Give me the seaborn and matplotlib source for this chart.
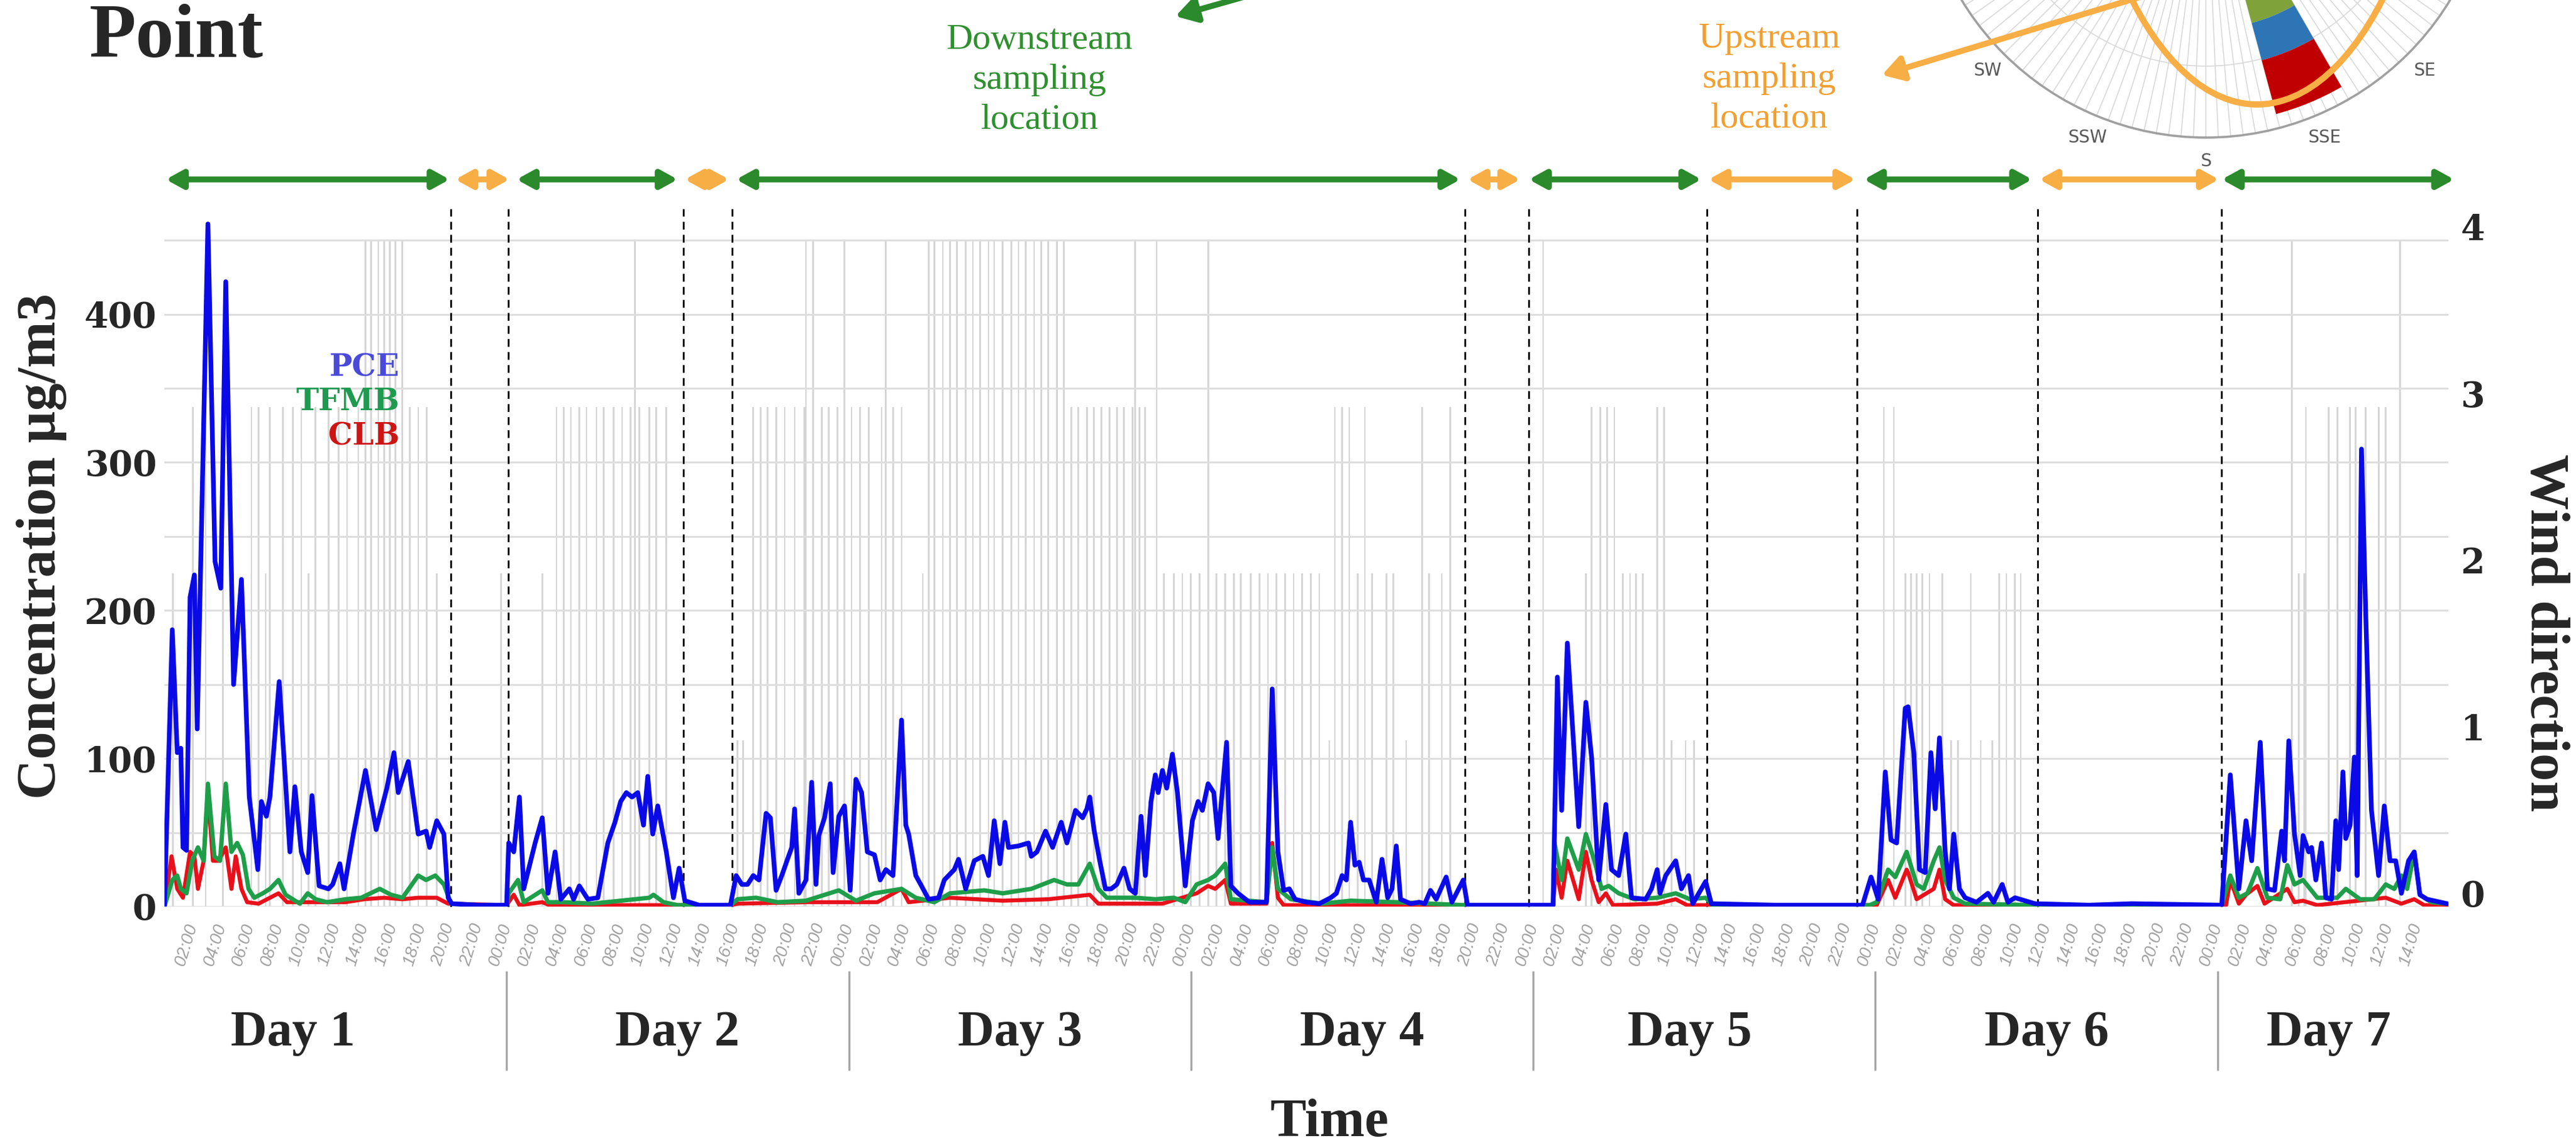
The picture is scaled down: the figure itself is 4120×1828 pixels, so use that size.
"""
Concentration time series (PCE / TFMB / CLB) with wind direction bars,
sampling-location periods and a wind-rose inset cut by the top edge.
"""

import numpy as np
import pandas as pd
import matplotlib
matplotlib.use("Agg")
import matplotlib.pyplot as plt
import seaborn as sns
from matplotlib.patches import Ellipse, FancyArrowPatch

# hours since Day 1 00:00 -> concentration (ug/m3)
PCE = [
    (0.0, 0), (0.55, 187), (0.9, 104), (1.15, 107), (1.3, 40), (1.55, 38), (1.8, 209), (2.1, 224),
    (2.3, 120), (3.05, 461), (3.55, 233), (3.95, 215), (4.3, 422), (4.85, 150), (5.4, 221), (5.95, 74),
    (6.55, 25), (6.8, 71), (7.15, 61), (7.4, 74), (8.05, 152), (8.8, 37), (9.15, 81), (9.6, 37),
    (10.05, 23), (10.35, 75), (10.85, 14), (11.5, 12), (11.8, 15), (12.3, 29), (12.6, 12), (13.25, 49),
    (14.1, 92), (14.85, 52), (15.6, 80), (16.1, 104), (16.4, 77), (17.1, 98), (17.8, 49), (18.35, 51),
    (18.6, 40), (19.1, 58), (19.6, 49), (19.9, 6), (20.15, 2), (22.0, 1), (24.0, 1),
    (24.15, 43), (24.5, 37), (24.9, 74), (25.2, 12), (26.0, 43), (26.5, 60), (26.9, 9), (27.4, 37),
    (27.8, 5), (28.4, 12), (28.7, 5), (29.1, 14), (29.7, 5), (30.4, 6), (31.1, 43), (31.6, 57),
    (32.0, 71), (32.4, 77), (32.8, 74), (33.2, 77), (33.6, 55), (33.9, 88), (34.25, 49), (34.6, 68),
    (35.2, 37), (35.7, 6), (36.1, 26), (36.5, 4), (37.5, 1), (39.7, 1),
    (40.1, 21), (40.5, 15), (40.9, 15), (41.3, 21), (41.7, 18), (42.2, 63), (42.5, 60), (42.9, 11),
    (43.3, 21), (43.7, 32), (44.0, 40), (44.2, 66), (44.5, 9), (45.0, 18), (45.4, 84), (45.7, 15),
    (45.9, 48), (46.3, 60), (46.7, 83), (46.9, 23), (47.3, 61), (47.7, 68), (48.1, 11), (48.5, 86),
    (48.9, 77), (49.3, 37), (49.8, 35), (50.2, 18), (50.6, 25), (51.1, 21), (51.7, 126), (52.0, 55),
    (52.2, 49), (52.7, 21), (53.1, 14), (53.6, 5), (54.3, 6), (54.7, 18), (55.4, 25), (55.7, 32),
    (56.2, 12), (56.8, 31), (57.4, 34), (57.8, 21), (58.2, 58), (58.6, 29), (58.95, 57), (59.2, 40),
    (59.9, 41), (60.6, 43), (60.8, 34), (61.2, 37), (61.8, 51), (62.3, 40), (62.9, 57), (63.3, 43),
    (63.9, 65), (64.4, 60), (64.7, 66), (64.9, 74), (65.2, 52), (65.6, 31), (66.0, 12), (66.4, 12),
    (66.8, 15), (67.3, 26), (67.7, 12), (68.1, 9), (68.5, 61), (68.8, 21), (69.2, 71), (69.5, 89),
    (69.7, 77), (70.0, 92), (70.3, 80), (70.7, 103), (71.05, 77), (71.6, 14), (72.1, 58), (72.5, 71),
    (72.8, 65), (73.2, 83), (73.6, 77), (73.9, 46), (74.5, 111), (74.8, 14), (75.3, 9), (76.1, 3),
    (77.3, 3), (77.7, 147), (78.1, 37), (78.5, 11), (78.9, 12), (79.3, 5), (80.1, 3), (81.0, 2),
    (81.8, 6), (82.2, 9), (82.6, 21), (82.9, 18), (83.2, 57), (83.5, 28), (83.8, 30), (84.1, 18),
    (84.5, 18), (85.0, 3), (85.4, 32), (85.8, 6), (86.1, 12), (86.4, 41), (86.7, 5), (87.4, 2),
    (88.0, 3), (88.4, 2), (88.8, 11), (89.2, 5), (89.9, 20), (90.3, 3), (91.1, 18), (91.4, 1),
    (93.0, 1), (95.7, 1), (97.4, 1),
    (97.7, 155), (98.0, 65), (98.4, 178), (99.2, 54), (99.7, 138), (100.1, 101), (100.6, 18), (101.1, 69),
    (101.5, 25), (102.0, 21), (102.5, 49), (102.9, 6), (103.9, 5), (104.3, 12), (104.7, 25), (104.9, 9),
    (105.3, 21), (106.0, 31), (106.4, 12), (106.9, 21), (107.2, 2), (108.1, 17), (108.5, 2), (113.0, 1),
    (119.1, 1),
    (119.7, 20), (120.2, 5), (120.7, 91), (121.1, 45), (121.5, 43), (122.1, 134), (122.3, 135), (122.7, 104),
    (123.1, 25), (123.5, 23), (123.9, 104), (124.2, 66), (124.5, 114), (124.9, 37), (125.2, 12), (125.5, 49),
    (125.9, 12), (126.3, 6), (127.1, 3), (127.9, 9), (128.3, 3), (128.9, 15), (129.3, 3), (129.8, 6),
    (130.5, 4), (131.2, 2), (135.0, 1), (138.0, 2), (144.3, 1),
    (144.9, 89), (145.5, 12), (146.0, 58), (146.4, 31), (147.0, 111), (147.5, 12), (148.0, 11), (148.5, 51),
    (148.7, 31), (149.0, 112), (149.4, 49), (149.8, 21), (150.0, 48), (150.4, 37), (150.6, 40), (150.9, 18),
    (151.3, 43), (151.6, 6), (152.0, 5), (152.3, 58), (152.5, 25), (152.8, 91), (153.0, 46), (153.3, 55),
    (153.6, 101), (153.8, 21), (154.1, 309), (154.4, 197), (154.8, 65), (155.3, 21), (155.7, 68), (156.1, 31),
    (156.5, 31), (156.9, 9), (157.4, 31), (157.8, 37), (158.2, 8), (158.7, 5), (160.1, 2),
]

TFMB = [
    (0.0, 0), (0.55, 18), (0.9, 21), (1.15, 12), (1.55, 9), (1.95, 31), (2.35, 40), (2.75, 31),
    (3.05, 83), (3.5, 34), (3.9, 31), (4.3, 83), (4.7, 37), (5.1, 43), (5.5, 35), (5.9, 12),
    (6.3, 6), (6.9, 9), (7.4, 12), (8.0, 18), (8.5, 8), (9.0, 5), (9.5, 2), (10.05, 9),
    (10.6, 5), (11.4, 3), (12.7, 5), (13.8, 6), (15.1, 12), (15.9, 8), (16.7, 6), (17.8, 21),
    (18.35, 18), (19.0, 21), (19.6, 15), (20.1, 2), (22.0, 1), (24.0, 1),
    (24.15, 9), (24.8, 18), (25.2, 3), (26.5, 11), (26.9, 3), (28.0, 3), (30.0, 2), (32.0, 4),
    (34.0, 6), (34.3, 8), (35.0, 3), (36.0, 1), (39.7, 1),
    (40.2, 5), (41.5, 6), (43.0, 3), (45.0, 4), (47.3, 11), (48.5, 4), (49.8, 9), (51.7, 12),
    (52.7, 6), (54.0, 3), (55.1, 9), (57.5, 11), (58.8, 9), (60.8, 12), (62.4, 18), (63.3, 15),
    (64.1, 15), (64.9, 29), (65.5, 12), (66.1, 6), (68.1, 6), (69.5, 5), (70.8, 6), (71.6, 3),
    (72.4, 15), (73.2, 18), (73.7, 21), (74.4, 29), (74.8, 5), (77.3, 3), (77.7, 40), (78.1, 12),
    (79.0, 5), (81.2, 2), (83.2, 4), (86.4, 3), (91.2, 1), (97.4, 1),
    (97.5, 43), (98.0, 18), (98.4, 46), (99.2, 25), (99.7, 49), (100.3, 31), (100.8, 12), (101.3, 14),
    (102.0, 9), (103.1, 5), (104.7, 6), (106.0, 9), (107.0, 5), (108.1, 6), (108.6, 1), (119.6, 1),
    (120.1, 3), (120.9, 25), (121.4, 20), (122.2, 37), (122.9, 15), (123.4, 12), (124.1, 31), (124.5, 40),
    (124.9, 18), (125.5, 6), (126.3, 2), (131.2, 1), (144.3, 1),
    (144.9, 21), (145.5, 6), (146.1, 9), (146.8, 26), (147.5, 6), (148.4, 5), (148.9, 28), (149.4, 15),
    (150.0, 18), (150.5, 12), (151.0, 6), (152.4, 6), (153.0, 12), (154.0, 5), (155.0, 5), (155.8, 15),
    (156.4, 12), (156.9, 21), (157.3, 12), (157.8, 37), (158.2, 8), (159.0, 3), (160.1, 2),
]

CLB = [
    (0.0, 0), (0.5, 34), (0.9, 12), (1.3, 6), (1.8, 37), (2.1, 34), (2.35, 12), (2.75, 31),
    (3.05, 77), (3.4, 31), (3.8, 31), (4.3, 40), (4.7, 12), (5.0, 34), (5.4, 12), (5.8, 3),
    (6.6, 2), (7.4, 6), (8.0, 9), (8.6, 3), (12.7, 3), (14.0, 5), (15.4, 6), (16.7, 5),
    (17.8, 6), (19.1, 6), (19.9, 2), (24.0, 1), (24.5, 8), (24.9, 1), (26.5, 3), (27.0, 1),
    (39.7, 1), (40.2, 2), (45.0, 3), (50.0, 3), (51.7, 12), (52.2, 3), (55.1, 6), (58.8, 4),
    (62.0, 5), (64.9, 8), (65.5, 2), (70.0, 2), (72.4, 9), (73.2, 14), (73.7, 12), (74.4, 18),
    (74.8, 2), (77.3, 2), (77.7, 43), (78.1, 6), (78.5, 1), (97.4, 1),
    (97.6, 25), (98.0, 6), (98.4, 31), (99.2, 5), (99.7, 37), (100.1, 18), (100.6, 3), (101.1, 9),
    (101.6, 1), (104.7, 2), (106.0, 5), (106.8, 1), (120.1, 1), (120.9, 18), (121.4, 6), (122.2, 25),
    (122.3, 23), (122.9, 5), (124.1, 12), (124.5, 25), (124.9, 5), (125.5, 1), (144.6, 1),
    (144.9, 18), (145.5, 2), (146.0, 8), (146.8, 14), (147.3, 2), (148.9, 12), (149.4, 3), (150.0, 4),
    (151.0, 1), (155.8, 6), (156.9, 2), (157.8, 5), (158.5, 1), (160.1, 1),
]

# hours -> wind direction class (right axis)
WIND = [
    (0.6, 2), (2.0, 3), (2.9, 3), (4.1, 3), (6.1, 3), (6.6, 3), (7.1, 2), (7.4, 3), (8.3, 3),
    (9.0, 3), (9.6, 3), (10.1, 2), (10.6, 3), (11.5, 3), (12.2, 3), (12.8, 3), (13.6, 3),
    (14.1, 4), (14.5, 4), (15.0, 4), (15.4, 4), (15.8, 4), (16.2, 4), (16.7, 4), (17.2, 3),
    (17.8, 3), (18.4, 3), (19.1, 2), (23.6, 2), (26.5, 2),
    (27.5, 3), (28.0, 3), (28.5, 3), (29.1, 3), (29.6, 3), (30.3, 3), (30.8, 3), (31.5, 3),
    (32.1, 3), (32.7, 3), (33.0, 4), (33.3, 3), (34.0, 3), (34.5, 3), (35.2, 3), (40.2, 1),
    (40.6, 1), (41.3, 3), (41.8, 3), (42.3, 3), (42.9, 3), (43.5, 3), (44.2, 3), (44.9, 3),
    (45.0, 4), (45.5, 4), (46.1, 3), (46.6, 3), (47.2, 3), (47.7, 4), (48.2, 3), (48.8, 3),
    (49.4, 3), (50.3, 3), (50.6, 4), (51.1, 3), (51.7, 3), (53.2, 2),
    (53.6, 4), (54.0, 4), (54.6, 4), (55.1, 4), (55.6, 4), (56.2, 4), (56.7, 4), (57.2, 4),
    (57.8, 4), (58.2, 4), (58.8, 4), (59.4, 4), (59.9, 4), (60.4, 4), (61.0, 4), (61.5, 4),
    (62.0, 4), (62.6, 4), (63.1, 4), (63.6, 3), (64.1, 3), (64.7, 3), (65.2, 3), (65.7, 3),
    (66.3, 3), (66.8, 3), (67.3, 3), (67.9, 3), (68.1, 4), (68.4, 3), (68.8, 3), (69.6, 4),
    (70.1, 2), (70.8, 2), (71.4, 2), (72.0, 2), (72.6, 2), (73.2, 4), (73.8, 2), (74.4, 2),
    (75.0, 2), (75.5, 2), (76.2, 2), (76.8, 2), (77.4, 2), (78.0, 2), (78.6, 2), (79.2, 2),
    (79.8, 2), (80.4, 2), (81.0, 2), (81.7, 1), (82.1, 3), (82.6, 3), (83.1, 3), (83.7, 2),
    (84.2, 3), (84.7, 2), (85.7, 2), (86.2, 2), (87.1, 1), (88.2, 3), (88.7, 2), (89.6, 2),
    (90.2, 3), (96.7, 4), (99.7, 2), (100.1, 3), (100.7, 3), (101.2, 3), (101.7, 3), (102.3, 2),
    (102.8, 2), (103.2, 2), (103.7, 2), (104.7, 3), (105.2, 3), (105.7, 1), (106.7, 1), (107.3, 1),
    (120.6, 3), (121.3, 3), (122.1, 2), (122.5, 2), (122.9, 2), (123.3, 2), (123.8, 2), (124.7, 2),
    (125.3, 1), (125.8, 1), (126.7, 2), (127.4, 1), (128.2, 1), (128.7, 2), (129.2, 2), (129.8, 2),
    (130.2, 2), (149.2, 4), (149.7, 2), (150.1, 2), (150.2, 3), (151.8, 3), (152.4, 3), (153.3, 3),
    (153.7, 3), (154.4, 3), (155.3, 3), (155.8, 3), (156.8, 4),
]

SWITCH_HOURS = [20.1, 24.1, 36.4, 39.8, 91.2, 95.7, 108.2, 118.7, 131.4, 144.3]
DOWNSTREAM_SPANS = [(0.1, 20.0), (24.7, 36.0), (40.1, 90.9), (95.7, 107.8), (119.2, 131.0), (144.3, 160.6)]
UPSTREAM_SPANS = [(20.4, 24.2), (36.5, 39.6), (91.4, 95.1), (108.3, 118.6), (131.5, 144.1)]

DAY_NAMES = ["Day 1", "Day 2", "Day 3", "Day 4", "Day 5", "Day 6", "Day 7"]
DAY_LABEL_HOURS = [9.0, 36.0, 60.0, 84.0, 107.0, 132.0, 151.8]
DAY_STARTS = [24, 48, 72, 96, 120, 144]
HOUR_TICKS = list(range(2, 159, 2))
HOUR_LABELS = [f"{h % 24:02d}:00" for h in HOUR_TICKS]

# only the lower half of the rose is inside the picture
ROSE_LABELS = {202.5: "SSW", 225.0: "SW", 180.0: "S", 157.5: "SSE", 135.0: "SE"}
ROSE_BAR_DIR = 157.5
ROSE_SEGMENTS = [0.62, 0.135, 0.195]
ROSE_COLORS = ["#7fa33a", "#2e75b6", "#c00000"]

BLUE, GREEN, RED = "#0a0ae6", "#1f9e4a", "#e8101a"
ARROW_GREEN, ARROW_ORANGE = "#2b8a2b", "#f7ae45"
TEXT_GREEN, TEXT_ORANGE = "#2f8f2f", "#f0a032"

W_PX, H_PX, DPI = 4120, 1828, 200
Y_TOP = 475


def fx(px):
    return px / W_PX


def fy(py):
    return 1 - py / H_PX


def main():
    sns.set_style("white")
    plt.rcParams["font.family"] = ["Liberation Serif", "DejaVu Serif"]

    fig = plt.figure(figsize=(W_PX / DPI, H_PX / DPI), dpi=DPI)
    ax = fig.add_axes([fx(263), fy(1450), fx(3916) - fx(263), fy(325) - fy(1450)])
    ax2 = ax.twinx()
    ax.set_zorder(ax2.get_zorder() + 1)
    ax.patch.set_visible(False)

    # wind direction bars behind everything
    wind = pd.DataFrame(WIND, columns=["hour", "level"])
    ax2.bar(wind["hour"], wind["level"], width=0.12, color="#d6d6d6", linewidth=0)
    ax2.set_ylim(0, 4 * Y_TOP / 450)
    ax2.set_yticks([0, 1, 2, 3, 4], ["0", "1", "2", "3", "4"],
                   fontsize=20, fontweight="bold", family="DejaVu Serif", va="baseline")
    ax2.tick_params(length=0, pad=7)

    for data, color, lw in [(CLB, RED, 2.3), (TFMB, GREEN, 2.5), (PCE, BLUE, 2.7)]:
        df = pd.DataFrame(data, columns=["hour", "conc"])
        sns.lineplot(data=df, x="hour", y="conc", ax=ax, color=color, lw=lw,
                     sort=False, estimator=None)

    ax.set_xlim(0, 160.2)
    ax.set_ylim(0, Y_TOP)
    ax.set_yticks(np.arange(0, 401, 100), [str(v) for v in range(0, 401, 100)],
                  fontsize=20, fontweight="bold", family="DejaVu Serif")
    ax.set_yticks(np.arange(50, 451, 100), minor=True)
    ax.grid(axis="y", which="both", color="#dedede", lw=1.1)
    ax.grid(axis="x", visible=False)
    ax.tick_params(axis="y", which="both", length=0, pad=4.5)
    ax.set_xticks(HOUR_TICKS, HOUR_LABELS, rotation=73, ha="right", va="center",
                  rotation_mode="anchor", fontsize=10, color="#a0a0a0",
                  fontstyle="italic", family="Liberation Sans")
    ax.tick_params(axis="x", length=0, pad=10)
    ax.set_xlabel("")
    ax.set_ylabel("")
    for a in (ax, ax2):
        for s in a.spines.values():
            s.set_visible(False)

    # location switches and day separators
    ax.vlines(SWITCH_HOURS, 0, 471, colors="black", linestyles=(0, (4.5, 3)),
              lw=1.0, clip_on=False, zorder=1.5)
    ax.vlines(DAY_STARTS, -0.0916, -0.2329, transform=ax.get_xaxis_transform(),
              colors="#a6a6a6", lw=1.2, clip_on=False)
    for h, name in zip(DAY_LABEL_HOURS, DAY_NAMES):
        ax.text(h, -0.1973, name, transform=ax.get_xaxis_transform(), ha="center",
                va="baseline", fontsize=29, fontweight="bold")

    # sampling location arrows
    for spans, color in [(DOWNSTREAM_SPANS, ARROW_GREEN), (UPSTREAM_SPANS, ARROW_ORANGE)]:
        for a, b in spans:
            ax.annotate("", xy=(b, fy(287)), xytext=(a, fy(287)),
                        xycoords=("data", "figure fraction"),
                        textcoords=("data", "figure fraction"),
                        arrowprops=dict(arrowstyle="<|-|>,head_length=0.4,head_width=0.22",
                                        color=color, lw=3.4, shrinkA=0, shrinkB=0,
                                        mutation_scale=20))

    # labels and legend
    fig.text(fx(143), fy(6), "Point", fontsize=44, fontweight="bold", va="top")
    fig.text(fx(67), fy(873), "Concentration µg/m3", rotation=90, ha="center",
             va="center", fontsize=32, fontweight="bold")
    fig.text(fx(4070), fy(1012), "Wind direction", rotation=-90, ha="center",
             va="center", fontsize=32, fontweight="bold")
    fig.text(fx(2127), fy(1817), "Time", ha="center", va="baseline",
             fontsize=31, fontweight="bold")
    for name, color, y in [("PCE", "#4a4ad8", 588), ("TFMB", "#1f9a50", 643), ("CLB", "#cc1515", 698)]:
        fig.text(fx(639), fy(y), name, ha="right", va="center", color=color,
                 fontsize=17.5, fontweight="bold", family="DejaVu Serif")

    fig.text(fx(1663), fy(128), "Downstream\nsampling\nlocation", ha="center",
             va="center", fontsize=21, color=TEXT_GREEN, linespacing=1.3)
    fig.text(fx(2830), fy(126), "Upstream\nsampling\nlocation", ha="center",
             va="center", fontsize=21, color=TEXT_ORANGE, linespacing=1.3)

    # wind rose inset, centred above the top edge
    r = 457
    rose = fig.add_axes([fx(3528 - r), fy(-237 + r), fx(2 * r), 2 * r / H_PX],
                        projection="polar")
    rose.set_theta_zero_location("N")
    rose.set_theta_direction(-1)
    rose.set_ylim(0, 1)
    angles = np.arange(0, 360, 2.5)
    labels = [ROSE_LABELS.get(float(a), "") for a in angles]
    rose.set_thetagrids(angles, labels, fontsize=10, color="#595959", family="DejaVu Sans")
    rose.set_rgrids([0.25, 0.5, 0.75], labels=[])
    rose.grid(color="#d9d9d9", lw=0.6)
    rose.spines["polar"].set_color("#a0a0a0")
    rose.spines["polar"].set_linewidth(1.3)
    rose.tick_params(pad=3)
    bottom = 0
    for seg, color in zip(ROSE_SEGMENTS, ROSE_COLORS):
        rose.bar(np.deg2rad(ROSE_BAR_DIR), seg, width=np.deg2rad(15), bottom=bottom,
                 color=color, edgecolor="none")
        bottom += seg

    fig.add_artist(Ellipse((3610 / DPI, (H_PX + 478) / DPI), 596 / DPI, 1290 / DPI,
                           transform=fig.dpi_scale_trans, fill=False,
                           ec=ARROW_ORANGE, lw=3.6))
    fig.add_artist(FancyArrowPatch((fx(3440), fy(-10)), (fx(3010), fy(120)),
                                   transform=fig.transFigure, color=ARROW_ORANGE, lw=3.4,
                                   arrowstyle="-|>,head_length=0.5,head_width=0.3",
                                   mutation_scale=20, shrinkA=0, shrinkB=0))
    fig.add_artist(FancyArrowPatch((fx(2000), fy(-8)), (fx(1880), fy(26)),
                                   transform=fig.transFigure, color=ARROW_GREEN, lw=3.4,
                                   arrowstyle="-|>,head_length=0.5,head_width=0.3",
                                   mutation_scale=20, shrinkA=0, shrinkB=0))

    fig.savefig("out.png", dpi=DPI, facecolor="white")
    plt.close(fig)


if __name__ == "__main__":
    main()
